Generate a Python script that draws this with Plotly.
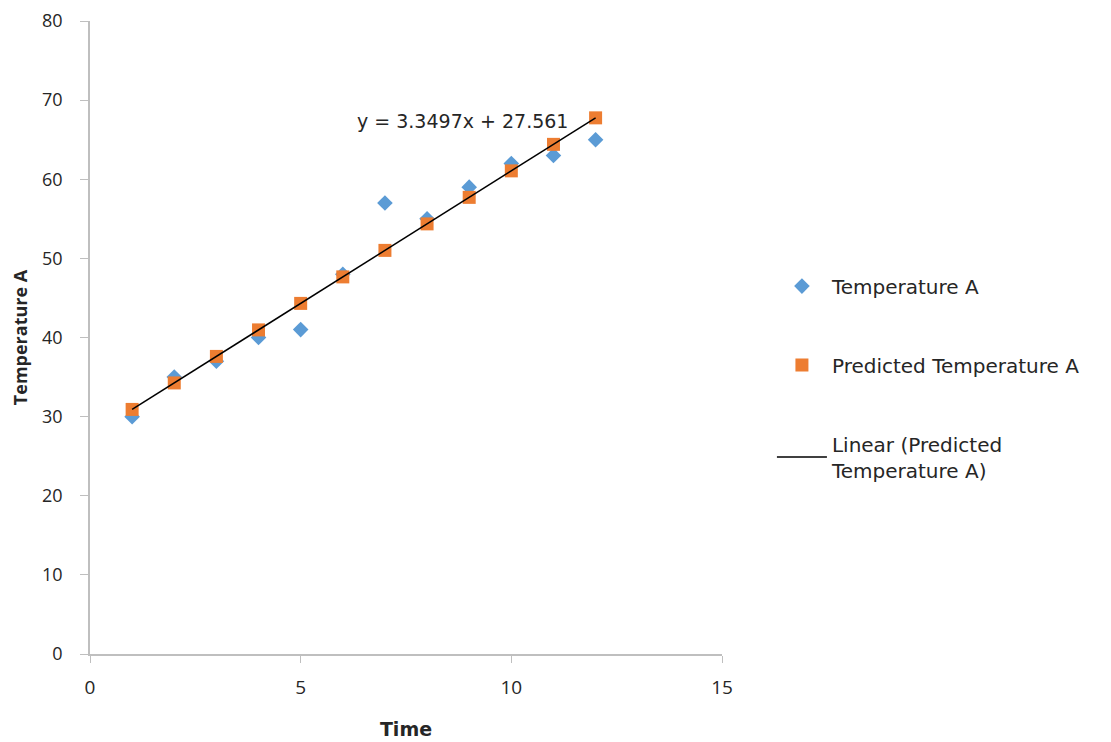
import plotly.graph_objects as go

time = [1, 2, 3, 4, 5, 6, 7, 8, 9, 10, 11, 12]
temperature_a = [30, 35, 37, 40, 41, 48, 57, 55, 59, 62, 63, 65]
predicted_a = [30.91, 34.26, 37.61, 40.96, 44.31, 47.66, 51.01, 54.36, 57.71, 61.06, 64.41, 67.76]
slope = 3.3497
intercept = 27.561
equation_label = "y = 3.3497x + 27.561"

trend_x = [time[0], time[-1]]
trend_y = [slope * x + intercept for x in trend_x]

FONT = "Open Sans"
WIDE = "DejaVu Sans"
TXT = "#262626"
fig = go.Figure()
fig.add_trace(go.Scatter(
    x=time, y=temperature_a, mode="markers", name="Temperature A",
    marker=dict(symbol="diamond", size=12, color="#5B9BD5"),
    legendgroup="a",
))
fig.add_trace(go.Scatter(
    x=time, y=predicted_a, mode="markers", name="Predicted Temperature A",
    marker=dict(symbol="square", size=13, color="#ED7D31"),
    legendgroup="b",
))
fig.add_trace(go.Scatter(
    x=trend_x, y=trend_y, mode="lines", name="Linear (Predicted<br>Temperature A)",
    line=dict(color="black", width=1.5),
    legendgroup="c",
))

fig.add_annotation(
    x=11.4, y=67.3, xref="x", yref="y", text=equation_label, showarrow=False,
    xanchor="right", yanchor="middle", font=dict(size=19, color=TXT, family=WIDE),
)

fig.update_layout(
    width=1111, height=742,
    margin=dict(l=82, r=397, t=13, b=96),
    plot_bgcolor="white", paper_bgcolor="white",
    font=dict(family=FONT, size=18, color=TXT),
    showlegend=True,
    legend=dict(
        x=1.079, y=0.612, xanchor="left", yanchor="top",
        font=dict(size=20, family=WIDE, color=TXT),
        tracegroupgap=50, itemwidth=50, bgcolor="rgba(0,0,0,0)",
    ),
    xaxis=dict(
        range=[0, 15], tickvals=[0, 5, 10, 15], showgrid=False, zeroline=False,
        showline=True, linecolor="#BFBFBF", linewidth=1.5,
        ticks="outside", ticklen=7, tickcolor="#BFBFBF", ticklabelstandoff=8,
        automargin=False, ticklabeloverflow="allow",
        title=dict(text="<b>Time</b>", font=dict(size=19, family=WIDE), standoff=24),
        tickfont=dict(size=19, family=FONT),
    ),
    yaxis=dict(
        range=[0, 80], tickvals=list(range(0, 81, 10)), showgrid=False, zeroline=False,
        showline=True, linecolor="#BFBFBF", linewidth=1.5,
        ticks="outside", ticklen=8, tickcolor="#BFBFBF", ticklabelstandoff=14,
        automargin=False, ticklabeloverflow="allow",
        title=dict(text="<b>Temperature A</b>", font=dict(size=18, family=FONT), standoff=28),
        tickfont=dict(size=18, family=FONT),
    ),
)

fig.write_html("out.html")
